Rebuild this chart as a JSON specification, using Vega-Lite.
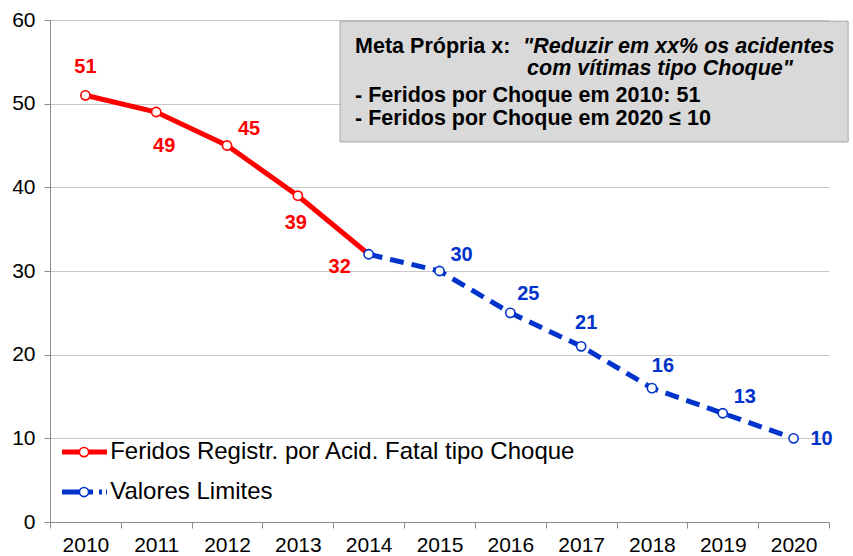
{
  "$schema": "https://vega.github.io/schema/vega-lite/v6.json",
  "width": 779,
  "height": 502,
  "autosize": {"type": "none"},
  "padding": {"left": 50, "top": 20, "right": 24, "bottom": 34},
  "config": {"view": {"stroke": null}, "font": "Liberation Sans"},
  "datasets": {
    "main": [
      {"year": 2010, "value": 51, "series": "Registrado"},
      {"year": 2011, "value": 49, "series": "Registrado"},
      {"year": 2012, "value": 45, "series": "Registrado"},
      {"year": 2013, "value": 39, "series": "Registrado"},
      {"year": 2014, "value": 32, "series": "Registrado"},
      {"year": 2014, "value": 32, "series": "Limite"},
      {"year": 2015, "value": 30, "series": "Limite"},
      {"year": 2016, "value": 25, "series": "Limite"},
      {"year": 2017, "value": 21, "series": "Limite"},
      {"year": 2018, "value": 16, "series": "Limite"},
      {"year": 2019, "value": 13, "series": "Limite"},
      {"year": 2020, "value": 10, "series": "Limite"}
    ]
  },
  "layer": [
    {
      "data": {"name": "main"},
      "transform": [{"filter": "datum.series == 'Registrado'"}],
      "mark": {"type": "line", "color": "#FF0000", "strokeWidth": 5},
      "encoding": {
        "x": {
          "field": "year",
          "type": "quantitative",
          "title": null,
          "scale": {"domain": [2009.5, 2020.5], "nice": false, "zero": false},
          "axis": {
            "values": [2009.5, 2010.5, 2011.5, 2012.5, 2013.5, 2014.5, 2015.5, 2016.5, 2017.5, 2018.5, 2019.5, 2020.5],
            "labelExpr": "datum.value > 2020 ? '' : format(datum.value + 0.5, 'd')",
            "labelOffset": 35.4,
            "labelFlush": false,
            "labelOverlap": false,
            "labelBound": false,
            "grid": false,
            "domainColor": "#8C8C8C",
            "tickColor": "#8C8C8C",
            "tickSize": 6,
            "labelFontSize": 21,
            "labelColor": "#000000",
            "labelPadding": 6,
            "labelFont": "Liberation Sans"
          }
        },
        "y": {
          "field": "value",
          "type": "quantitative",
          "title": null,
          "scale": {"domain": [0, 60], "nice": false},
          "axis": {
            "values": [0, 10, 20, 30, 40, 50, 60],
            "grid": true,
            "gridColor": "#C8C8C8",
            "gridWidth": 1,
            "domainColor": "#8C8C8C",
            "tickColor": "#8C8C8C",
            "tickSize": 6,
            "labelFontSize": 21,
            "labelColor": "#000000",
            "labelPadding": 9,
            "labelFont": "Liberation Sans"
          }
        }
      }
    },
    {
      "data": {"name": "main"},
      "transform": [{"filter": "datum.series == 'Limite'"}],
      "mark": {"type": "line", "color": "#0033CC", "strokeWidth": 5, "strokeDash": [14, 8]},
      "encoding": {
        "x": {"field": "year", "type": "quantitative"},
        "y": {"field": "value", "type": "quantitative"}
      }
    },
    {
      "data": {"name": "main"},
      "transform": [{"filter": "datum.series == 'Registrado' && datum.year < 2014"}],
      "mark": {"type": "point", "shape": "circle", "filled": true, "fill": "#FFFFFF", "stroke": "#FF0000", "strokeWidth": 1.6, "size": 85, "opacity": 1},
      "encoding": {
        "x": {"field": "year", "type": "quantitative"},
        "y": {"field": "value", "type": "quantitative"}
      }
    },
    {
      "data": {"name": "main"},
      "transform": [{"filter": "datum.series == 'Limite'"}],
      "mark": {"type": "point", "shape": "circle", "filled": true, "fill": "#FFFFFF", "stroke": "#0033CC", "strokeWidth": 1.6, "size": 85, "opacity": 1},
      "encoding": {
        "x": {"field": "year", "type": "quantitative"},
        "y": {"field": "value", "type": "quantitative"}
      }
    },
    {
      "data": {"name": "main"},
      "transform": [{"filter": "datum.series == 'Registrado' && datum.year == 2010"}],
      "mark": {"type": "text", "color": "#FF0000", "fontSize": 20, "fontWeight": "bold", "dx": 0, "dy": -28, "baseline": "middle"},
      "encoding": {"x": {"field": "year", "type": "quantitative"}, "y": {"field": "value", "type": "quantitative"}, "text": {"field": "value"}}
    },
    {
      "data": {"name": "main"},
      "transform": [{"filter": "datum.series == 'Registrado' && datum.year == 2011"}],
      "mark": {"type": "text", "color": "#FF0000", "fontSize": 20, "fontWeight": "bold", "dx": 8, "dy": 34, "baseline": "middle"},
      "encoding": {"x": {"field": "year", "type": "quantitative"}, "y": {"field": "value", "type": "quantitative"}, "text": {"field": "value"}}
    },
    {
      "data": {"name": "main"},
      "transform": [{"filter": "datum.series == 'Registrado' && datum.year == 2012"}],
      "mark": {"type": "text", "color": "#FF0000", "fontSize": 20, "fontWeight": "bold", "dx": 22, "dy": -17, "baseline": "middle"},
      "encoding": {"x": {"field": "year", "type": "quantitative"}, "y": {"field": "value", "type": "quantitative"}, "text": {"field": "value"}}
    },
    {
      "data": {"name": "main"},
      "transform": [{"filter": "datum.series == 'Registrado' && datum.year == 2013"}],
      "mark": {"type": "text", "color": "#FF0000", "fontSize": 20, "fontWeight": "bold", "dx": -2, "dy": 27, "baseline": "middle"},
      "encoding": {"x": {"field": "year", "type": "quantitative"}, "y": {"field": "value", "type": "quantitative"}, "text": {"field": "value"}}
    },
    {
      "data": {"name": "main"},
      "transform": [{"filter": "datum.series == 'Registrado' && datum.year == 2014"}],
      "mark": {"type": "text", "color": "#FF0000", "fontSize": 20, "fontWeight": "bold", "dx": -29, "dy": 13, "baseline": "middle"},
      "encoding": {"x": {"field": "year", "type": "quantitative"}, "y": {"field": "value", "type": "quantitative"}, "text": {"field": "value"}}
    },
    {
      "data": {"name": "main"},
      "transform": [{"filter": "datum.series == 'Limite' && (datum.year == 2015 || datum.year == 2019)"}],
      "mark": {"type": "text", "color": "#0033CC", "fontSize": 20, "fontWeight": "bold", "dx": 22, "dy": -16, "baseline": "middle"},
      "encoding": {"x": {"field": "year", "type": "quantitative"}, "y": {"field": "value", "type": "quantitative"}, "text": {"field": "value"}}
    },
    {
      "data": {"name": "main"},
      "transform": [{"filter": "datum.series == 'Limite' && datum.year == 2016"}],
      "mark": {"type": "text", "color": "#0033CC", "fontSize": 20, "fontWeight": "bold", "dx": 18, "dy": -19, "baseline": "middle"},
      "encoding": {"x": {"field": "year", "type": "quantitative"}, "y": {"field": "value", "type": "quantitative"}, "text": {"field": "value"}}
    },
    {
      "data": {"name": "main"},
      "transform": [{"filter": "datum.series == 'Limite' && datum.year == 2017"}],
      "mark": {"type": "text", "color": "#0033CC", "fontSize": 20, "fontWeight": "bold", "dx": 5, "dy": -23, "baseline": "middle"},
      "encoding": {"x": {"field": "year", "type": "quantitative"}, "y": {"field": "value", "type": "quantitative"}, "text": {"field": "value"}}
    },
    {
      "data": {"name": "main"},
      "transform": [{"filter": "datum.series == 'Limite' && datum.year == 2018"}],
      "mark": {"type": "text", "color": "#0033CC", "fontSize": 20, "fontWeight": "bold", "dx": 11, "dy": -22, "baseline": "middle"},
      "encoding": {"x": {"field": "year", "type": "quantitative"}, "y": {"field": "value", "type": "quantitative"}, "text": {"field": "value"}}
    },
    {
      "data": {"name": "main"},
      "transform": [{"filter": "datum.series == 'Limite' && datum.year == 2020"}],
      "mark": {"type": "text", "color": "#0033CC", "fontSize": 20, "fontWeight": "bold", "dx": 28, "dy": 1, "baseline": "middle"},
      "encoding": {"x": {"field": "year", "type": "quantitative"}, "y": {"field": "value", "type": "quantitative"}, "text": {"field": "value"}}
    },
    {
      "data": {"values": [{"label": "box"}]},
      "mark": {"type": "rect", "fill": "#D9D9D9", "stroke": "#A6A6A6", "strokeWidth": 1},
      "encoding": {
        "x": {"datum": 2013.596, "type": "quantitative"},
        "x2": {"datum": 2020.77},
        "y": {"datum": 59.86, "type": "quantitative"},
        "y2": {"datum": 45.42}
      }
    },
    {
      "data": {"values": [{"t": "Meta Própria x:"}]},
      "mark": {"type": "text", "align": "left", "baseline": "middle", "fontSize": 21.5, "fontWeight": "bold", "color": "#000000"},
      "encoding": {
        "x": {"datum": 2013.808, "type": "quantitative"},
        "y": {"datum": 56.77, "type": "quantitative"},
        "text": {"field": "t"}
      }
    },
    {
      "data": {"values": [{"t": "\"Reduzir em xx% os acidentes"}]},
      "mark": {"type": "text", "align": "left", "baseline": "middle", "fontSize": 21.5, "fontWeight": "bold", "fontStyle": "italic", "color": "#000000"},
      "encoding": {
        "x": {"datum": 2016.18, "type": "quantitative"},
        "y": {"datum": 56.77, "type": "quantitative"},
        "text": {"field": "t"}
      }
    },
    {
      "data": {"values": [{"t": "com vítimas tipo Choque\""}]},
      "mark": {"type": "text", "align": "left", "baseline": "middle", "fontSize": 21.5, "fontWeight": "bold", "fontStyle": "italic", "color": "#000000"},
      "encoding": {
        "x": {"datum": 2016.237, "type": "quantitative"},
        "y": {"datum": 54.14, "type": "quantitative"},
        "text": {"field": "t"}
      }
    },
    {
      "data": {"values": [{"t": "- Feridos por Choque em 2010: 51"}]},
      "mark": {"type": "text", "align": "left", "baseline": "middle", "fontSize": 21.5, "fontWeight": "bold", "color": "#000000"},
      "encoding": {
        "x": {"datum": 2013.808, "type": "quantitative"},
        "y": {"datum": 50.91, "type": "quantitative"},
        "text": {"field": "t"}
      }
    },
    {
      "data": {"values": [{"t": "- Feridos por Choque em 2020 ≤ 10"}]},
      "mark": {"type": "text", "align": "left", "baseline": "middle", "fontSize": 21.5, "fontWeight": "bold", "color": "#000000"},
      "encoding": {
        "x": {"datum": 2013.808, "type": "quantitative"},
        "y": {"datum": 48.16, "type": "quantitative"},
        "text": {"field": "t"}
      }
    },
    {
      "data": {"values": [{"item": "red"}]},
      "mark": {"type": "rule", "color": "#FF0000", "strokeWidth": 5},
      "encoding": {
        "x": {"datum": 2009.67, "type": "quantitative"},
        "x2": {"datum": 2010.305},
        "y": {"datum": 8.36, "type": "quantitative"}
      }
    },
    {
      "data": {"values": [{"item": "blue"}]},
      "mark": {"type": "rule", "color": "#0033CC", "strokeWidth": 5, "strokeDash": [31, 6, 3, 4, 3, 50]},
      "encoding": {
        "x": {"datum": 2009.67, "type": "quantitative"},
        "x2": {"datum": 2010.305},
        "y": {"datum": 3.58, "type": "quantitative"}
      }
    },
    {
      "data": {"values": [{"item": "red"}]},
      "mark": {"type": "point", "shape": "circle", "filled": true, "fill": "#FFFFFF", "stroke": "#FF0000", "strokeWidth": 1.6, "size": 85, "opacity": 1},
      "encoding": {
        "x": {"datum": 2009.98, "type": "quantitative"},
        "y": {"datum": 8.36, "type": "quantitative"}
      }
    },
    {
      "data": {"values": [{"item": "blue"}]},
      "mark": {"type": "point", "shape": "circle", "filled": true, "fill": "#FFFFFF", "stroke": "#0033CC", "strokeWidth": 1.6, "size": 85, "opacity": 1},
      "encoding": {
        "x": {"datum": 2009.98, "type": "quantitative"},
        "y": {"datum": 3.58, "type": "quantitative"}
      }
    },
    {
      "data": {"values": [{"t": "Feridos Registr. por Acid. Fatal tipo Choque", "v": 8.36}, {"t": "Valores Limites", "v": 3.58}]},
      "mark": {"type": "text", "align": "left", "baseline": "middle", "fontSize": 24, "color": "#000000"},
      "encoding": {
        "x": {"datum": 2010.35, "type": "quantitative"},
        "y": {"field": "v", "type": "quantitative"},
        "text": {"field": "t"}
      }
    }
  ]
}
